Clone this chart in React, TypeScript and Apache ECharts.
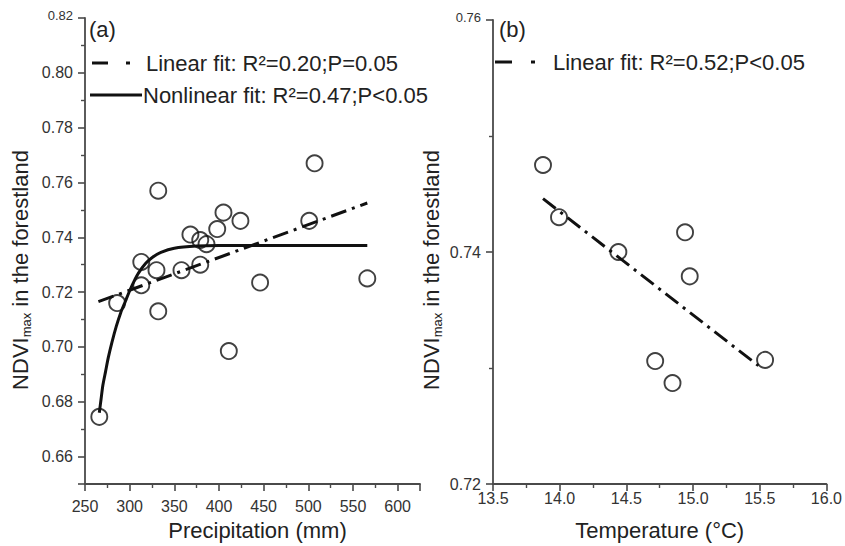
import React, { useEffect, useRef } from "react";
import * as echarts from "echarts";

// Panel (a): precipitation vs NDVImax
const precipitation = [332, 507, 405, 424, 501, 368, 379, 386, 398, 313, 330, 313, 358, 379, 446, 566, 286, 332, 411, 266];
const ndviA = [0.757, 0.767, 0.749, 0.746, 0.746, 0.741, 0.739, 0.7375, 0.743, 0.731, 0.728, 0.7225, 0.728, 0.73, 0.7235, 0.725, 0.716, 0.713, 0.6985, 0.6745];
const linearAX = [265, 566];
const linearAY = [0.7165, 0.7525];
const nonlinearAX = [266, 268, 270, 273, 276, 280, 285, 290, 295, 300, 305, 310, 318, 326, 335, 350, 375, 400, 566];
const nonlinearAY = [0.676, 0.681, 0.686, 0.691, 0.696, 0.7015, 0.7075, 0.7125, 0.7165, 0.7205, 0.724, 0.727, 0.7305, 0.7328, 0.7345, 0.736, 0.7368, 0.737, 0.737];

// Panel (b): temperature vs NDVImax
const temperature = [13.875, 13.995, 14.44, 14.94, 14.975, 14.716, 14.846, 15.54];
const ndviB = [0.7475, 0.743, 0.74, 0.7417, 0.7379, 0.7306, 0.7287, 0.7307];
const linearBX = [13.875, 15.49];
const linearBY = [0.7446, 0.7302];

const legendA1 = "Linear fit: R\u00B2=0.20;P=0.05";
const legendA2 = "Nonlinear fit: R\u00B2=0.47;P<0.05";
const legendB1 = "Linear fit: R\u00B2=0.52;P<0.05";

const FONT = "'Liberation Sans', Arial, Helvetica, sans-serif";
const zip = (xs: number[], ys: number[]) => xs.map((x, i) => [x, ys[i]]);

export default function App() {
  const ref = useRef<HTMLDivElement>(null);
  useEffect(() => {
    if (!ref.current) return;
    const chart = echarts.init(ref.current, undefined, { renderer: "svg" });
    const axisCommon = {
      axisLine: { show: true, onZero: false, lineStyle: { color: "#4a4a4a", width: 1.8 } },
      axisTick: { show: true, inside: false, length: 7, lineStyle: { color: "#4a4a4a", width: 1.6 } },
      minorTick: { show: true, splitNumber: 2, length: 4, lineStyle: { color: "#4a4a4a", width: 1.4 } },
      splitLine: { show: false },
      minorSplitLine: { show: false },
    };
    const dashDot = [16, 6, 3, 6];
    const scatterStyle = { color: "rgba(0,0,0,0)", borderColor: "#111", borderWidth: 1.9 };
    const titleRich = {
      a: { fontSize: 22, fontFamily: FONT, fill: "#222", color: "#222", lineHeight: 23, verticalAlign: "top" },
      s: { fontSize: 13, fontFamily: FONT, fill: "#222", color: "#222", lineHeight: 14, verticalAlign: "bottom" },
    };
    const ytitle = (x: number, y: number) => ({
      type: "text",
      x,
      y,
      rotation: Math.PI / 2,
      style: {
        text: "{a|NDVI}{s|max}{a| in the forestland}",
        rich: titleRich,
        align: "center",
        verticalAlign: "middle",
        fill: "#222",
      },
    });
    const txt = (x: number, y: number, text: string, size = 22) => ({
      type: "text",
      x,
      y,
      style: { text, fontSize: size, fontFamily: FONT, fill: "#222", align: "left", verticalAlign: "middle" },
    });
    const seg = (x1: number, x2: number, y: number) => ({
      type: "line",
      shape: { x1, y1: y, x2, y2: y },
      style: { stroke: "#111", lineWidth: 3 },
    });
    const yLabelFmt = (top: number) => (v: number) => {
      const s = v.toFixed(2);
      return Math.abs(v - top) < 1e-9 ? "{t|" + s + "}" : s;
    };
    const yLabelRich = { t: { fontSize: 13, color: "#333", fontFamily: FONT, padding: [0, 0, 6, 0] } };
    chart.setOption({
      animation: false,
      backgroundColor: "#fff",
      textStyle: { fontFamily: FONT },
      grid: [
        { left: 85, top: 18, width: 335, height: 469 },
        { left: 493, top: 20, width: 335, height: 467 },
      ],
      xAxis: [
        {
          ...axisCommon,
          gridIndex: 0,
          type: "value",
          min: 250,
          max: 625,
          interval: 50,
          name: "Precipitation (mm)",
          nameLocation: "middle",
          nameGap: 35,
          nameTextStyle: { fontSize: 22, color: "#222", fontFamily: FONT, padding: [0, 0, 0, 10] },
          axisLabel: { fontSize: 16, color: "#333", margin: 14, showMaxLabel: false, fontFamily: FONT },
        },
        {
          ...axisCommon,
          gridIndex: 1,
          type: "value",
          min: 13.5,
          max: 16.0,
          interval: 0.5,
          name: "Temperature (\u00B0C)",
          nameLocation: "middle",
          nameGap: 35,
          nameTextStyle: { fontSize: 22, color: "#222", fontFamily: FONT },
          axisLabel: { fontSize: 16, color: "#333", margin: 6, fontFamily: FONT, formatter: (v: number) => v.toFixed(1) },
        },
      ],
      yAxis: [
        {
          ...axisCommon,
          gridIndex: 0,
          type: "value",
          min: 0.65,
          max: 0.82,
          splitNumber: 8,
          axisLabel: { fontSize: 16, color: "#333", margin: 12, showMinLabel: false, fontFamily: FONT, formatter: yLabelFmt(0.82), rich: yLabelRich },
        },
        {
          ...axisCommon,
          gridIndex: 1,
          type: "value",
          min: 0.72,
          max: 0.76,
          interval: 0.02,
          axisLabel: { fontSize: 16, color: "#333", margin: 12, fontFamily: FONT, formatter: yLabelFmt(0.76), rich: yLabelRich },
        },
      ],
      series: [
        {
          type: "line",
          xAxisIndex: 0,
          yAxisIndex: 0,
          data: zip(linearAX, linearAY),
          showSymbol: false,
          symbol: "none",
          lineStyle: { color: "#111", width: 3, type: dashDot },
          z: 2,
        },
        {
          type: "line",
          xAxisIndex: 0,
          yAxisIndex: 0,
          data: zip(nonlinearAX, nonlinearAY),
          showSymbol: false,
          symbol: "none",
          smooth: 0.25,
          lineStyle: { color: "#111", width: 3 },
          z: 2,
        },
        {
          type: "scatter",
          xAxisIndex: 0,
          yAxisIndex: 0,
          data: zip(precipitation, ndviA),
          symbol: "circle",
          symbolSize: 16,
          itemStyle: scatterStyle,
          z: 3,
        },
        {
          type: "line",
          xAxisIndex: 1,
          yAxisIndex: 1,
          data: zip(linearBX, linearBY),
          showSymbol: false,
          symbol: "none",
          lineStyle: { color: "#111", width: 3, type: dashDot },
          z: 2,
        },
        {
          type: "scatter",
          xAxisIndex: 1,
          yAxisIndex: 1,
          data: zip(temperature, ndviB),
          symbol: "circle",
          symbolSize: 16,
          itemStyle: scatterStyle,
          z: 3,
        },
      ],
      graphic: [
        txt(89, 29, "(a)"),
        seg(92, 108, 63),
        seg(126, 130, 63),
        txt(146, 63, legendA1),
        seg(90, 142, 95),
        txt(143, 95, legendA2),
        txt(499, 29, "(b)"),
        seg(495, 512, 62),
        seg(531, 535, 62),
        txt(553, 62, legendB1),
        ytitle(21, 270),
        ytitle(432, 270),
      ],
    });
    return () => chart.dispose();
  }, []);
  return (
    <div
      ref={ref}
      style={{ position: "fixed", left: 0, top: 0, width: 845, height: 546, background: "#fff" }}
    />
  );
}
